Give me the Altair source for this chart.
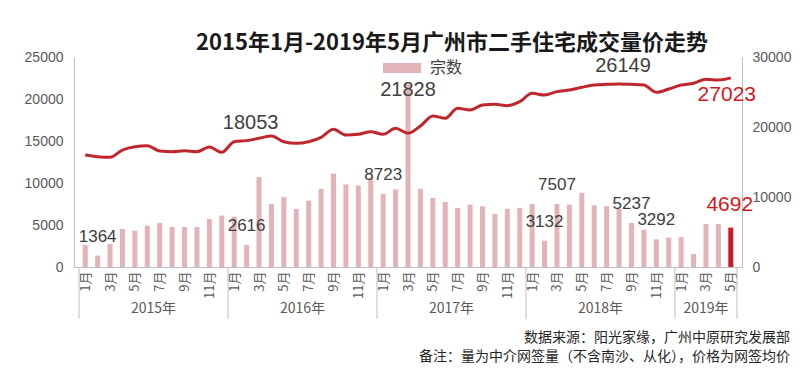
import altair as alt
import pandas as pd

# ---------------- data ----------------
years = [2015] * 12 + [2016] * 12 + [2017] * 12 + [2018] * 12 + [2019] * 5
months = list(range(1, 13)) * 4 + [1, 2, 3, 4, 5]

# monthly transactions (宗数), left axis
volume = [2640, 1364, 2760, 4520, 4320, 4920, 5240, 4760, 4760, 4760, 5720, 6120,
          6000, 2616, 10710, 7520, 8310, 6920, 7910, 9310, 11110, 9830, 9710, 10630,
          8723, 9230, 21828, 9310, 8230, 7760, 7040, 7430, 7230, 6320, 6920, 7040,
          7520, 3132, 7507, 7430, 8830, 7350, 7230, 6920, 5237, 4440, 3292, 3500,
          3560, 1560, 5120, 5120, 4692]

# average price (元/㎡), right axis
price = [16000, 15760, 15670, 16710, 17190, 17330, 16570, 16480, 16620, 16480, 17140, 16380,
         17900, 18053, 18380, 18710, 17900, 17670, 17900, 18520, 19670, 18860, 18950, 19330,
         18950, 19810, 19100, 20140, 21570, 21240, 22670, 22430, 23140, 23240, 23050, 23620,
         24810, 24570, 25050, 25290, 25670, 26000, 26100, 26149, 26100, 26000, 24950, 25430,
         26000, 26240, 26810, 26710, 27023]

bar_labels = [(2015, 2), (2016, 2), (2017, 1), (2018, 2), (2018, 3), (2018, 9), (2018, 11)]
bar_label_big = [(2017, 3)]
bar_label_last = [(2019, 5)]
line_labels = [(2016, 2), (2018, 8)]
line_label_last = [(2019, 5)]

title_text = "2015年1月-2019年5月广州市二手住宅成交量价走势"
legend_name = "宗数"
note1 = "数据来源：阳光家缘，广州中原研究发展部"
note2 = "备注：量为中介网签量（不含南沙、从化），价格为网签均价"

# ---------------- tables ----------------
n = len(volume)
df = pd.DataFrame({
    "idx": list(range(n)),
    "year": years,
    "month": months,
    "vol": volume,
    "price": price,
})
df["series"] = [legend_name] * (n - 1) + ["最新"]
keys = list(zip(df["year"], df["month"]))
df["bl"] = [k in bar_labels for k in keys]
df["blb"] = [k in bar_label_big for k in keys]
df["bll"] = [k in bar_label_last for k in keys]
df["ll"] = [k in line_labels for k in keys]
df["lll"] = [k in line_label_last for k in keys]

yr = df.groupby("year")["idx"].agg(["min", "max"]).reset_index()
yr["mid"] = (yr["min"] + yr["max"]) / 2
yr["label"] = yr["year"].astype(str) + "年"
bounds = sorted(set(list(yr["min"] - 0.5) + list(yr["max"] + 0.5)))
bdf = pd.DataFrame({"b": bounds})

FONT = "Liberation Sans"
CJK = "Noto Sans CJK SC"
W, H = 668, 210

xscale = alt.Scale(domain=[-0.5, n - 0.5], nice=False, zero=False)
xaxis = alt.Axis(
    title=None, values=list(range(0, n, 2)),
    labelExpr="(datum.value % 12 + 1) + '月'",
    labelAngle=270, labelFontSize=13, labelFont=CJK, labelColor="#595959",
    labelPadding=4, ticks=False, grid=False, domainColor="#bfbfbf",
)
X = alt.X("idx:Q", scale=xscale, axis=xaxis)

vol_scale = alt.Scale(domain=[0, 25000], nice=False)
price_scale = alt.Scale(domain=[0, 30000], nice=False)

left_axis = alt.Axis(title=None, values=[0, 5000, 10000, 15000, 20000, 25000], orient="left",
                     format="d", ticks=False, grid=False, labelFontSize=14, labelFont=FONT,
                     labelColor="#595959", labelPadding=11, domainColor="#bfbfbf")
right_axis = alt.Axis(title=None, values=[0, 5000, 10000, 15000, 20000, 25000, 30000], orient="right",
                      format="d", ticks=False, grid=False, labelFontSize=14, labelFont=FONT,
                      labelColor="#595959", labelPadding=10, domainColor="#bfbfbf")

base = alt.Chart(df)

bars = base.mark_bar(size=5).encode(
    x=X,
    y=alt.Y("vol:Q", scale=vol_scale, axis=left_axis),
    color=alt.Color(
        "series:N",
        scale=alt.Scale(domain=[legend_name, "最新"], range=["#e3b4b7", "#d3191f"]),
        legend=alt.Legend(
            title=None, values=[legend_name], orient="none", legendX=320, legendY=3,
            symbolType="M-3.8,-1L3.8,-1L3.8,1L-3.8,1Z", symbolSize=100,
            symbolStrokeWidth=0, labelFont=CJK, labelFontSize=16, labelColor="#404040",
            labelOffset=20,
        ),
    ),
)
bl = base.transform_filter("datum.bl").mark_text(
    font=FONT, fontSize=17, color="#404040", dy=-19
).encode(x=X, y=alt.Y("vol:Q", scale=vol_scale), text="vol:Q")
blb = base.transform_filter("datum.blb").mark_text(
    font=FONT, fontSize=20, color="#404040", dy=6
).encode(x=X, y=alt.Y("vol:Q", scale=vol_scale), text="vol:Q")
bll = base.transform_filter("datum.bll").mark_text(
    font=FONT, fontSize=21, color="#d3191f", dy=-23, dx=-1
).encode(x=X, y=alt.Y("vol:Q", scale=vol_scale), text="vol:Q")

vol_layer = alt.layer(bars, bl, blb, bll)

line = base.mark_line(color="#c0272d", strokeWidth=3, interpolate="monotone").encode(
    x=X, y=alt.Y("price:Q", scale=price_scale, axis=right_axis)
)
ll = base.transform_filter("datum.ll").mark_text(
    font=FONT, fontSize=20, color="#404040", dy=-18, dx=4
).encode(x=X, y=alt.Y("price:Q", scale=price_scale), text="price:Q")
lll = base.transform_filter("datum.lll").mark_text(
    font=FONT, fontSize=21, color="#d3191f", dy=17, dx=-4
).encode(x=X, y=alt.Y("price:Q", scale=price_scale), text="price:Q")

price_layer = alt.layer(line, ll, lll)

year_text = alt.Chart(yr).mark_text(
    font=CJK, fontSize=14, color="#595959", baseline="middle"
).encode(x=alt.X("mid:Q", scale=xscale, axis=xaxis), y=alt.value(252), text="label:N")

seps = alt.Chart(bdf).mark_rule(color="#bfbfbf", strokeWidth=1).encode(
    x=alt.X("b:Q", scale=xscale, axis=xaxis), y=alt.value(H), y2=alt.value(262)
)

title = alt.Chart(pd.DataFrame({"t": [title_text]})).mark_text(
    font=CJK, fontSize=22, fontWeight="bold", color="#1a1a1a", align="center", baseline="middle"
).encode(x=alt.value(378), y=alt.value(-14), text="t:N")

notes = alt.Chart(pd.DataFrame({"t": [note1, note2], "r": [0, 1]})).mark_text(
    font=CJK, fontSize=14, color="#262626", align="right", baseline="middle"
).encode(
    x=alt.value(716),
    y=alt.Y("r:Q", scale=alt.Scale(domain=[0, 1], range=[281, 300]), axis=None),
    text="t:N",
)

chart = alt.layer(vol_layer, price_layer, year_text, seps, title, notes).resolve_scale(
    y="independent"
).properties(
    width=W, height=H,
    autosize=alt.AutoSizeParams(type="none"),
    padding={"left": 66, "top": 49, "right": 50, "bottom": 99},
    background="white",
).configure_view(stroke=None)

chart.save("out.html", embed_options={"renderer": "svg", "actions": False})
